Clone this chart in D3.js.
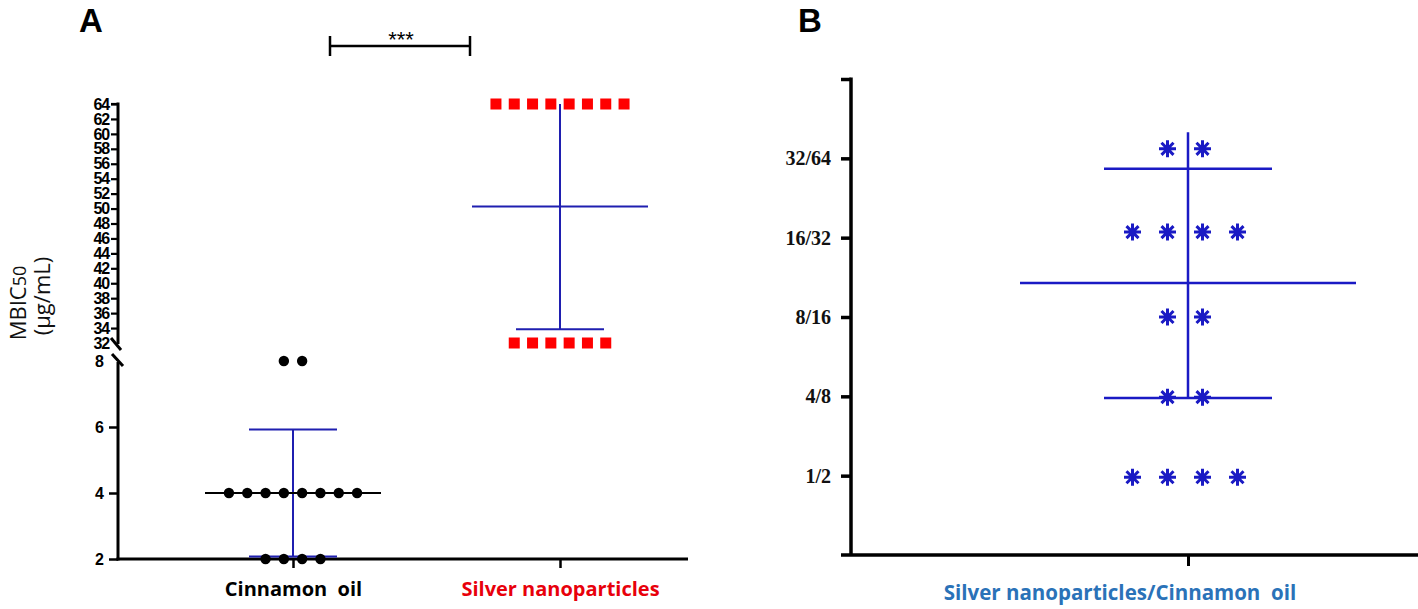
<!DOCTYPE html>
<html><head><meta charset="utf-8">
<script src="https://cdn.jsdelivr.net/npm/d3@7"></script>
<style>body{margin:0;background:#fff}svg{display:block}</style>
</head><body>
<svg id="c" width="1418" height="609"></svg>
<script>
// ---------- Panel A data ----------
const categoriesA = ["Cinnamon oil", "Silver nanoparticles"];
const categoryColorsA = ["#000000", "#e8000b"];
const cinnamonValues = [8, 8, 4, 4, 4, 4, 4, 4, 4, 4, 2, 2, 2, 2];
const silverValues = [64, 64, 64, 64, 64, 64, 64, 64, 32, 32, 32, 32, 32, 32];
const upperTicks = [64, 62, 60, 58, 56, 54, 52, 50, 48, 46, 44, 42, 40, 38, 36, 34, 32];
const lowerTicks = [2, 4, 6, 8];
const significanceLabel = "***";
const yTitleA = ["MBIC", "50", "(µg/mL)"];

// ---------- Panel B data ----------
const combos = ["1/2", "4/8", "8/16", "16/32", "32/64"];
const comboCounts = [4, 2, 2, 4, 2];
const comboPlotted = [-0.02, 0.99, 2.0, 3.07, 4.12];   // plotted level of each group (axis index units)
const comboMean = [2.43];
const comboSdRange = [0.98, 3.87];
const comboWhiskerTop = [4.33];
const categoryB = "Silver nanoparticles/Cinnamon  oil";

const svg = d3.select("#c");
const blueA = "#1f1fb0", blueB = "#1a1ac4";

// ================= PANEL A =================
const axA = 118, xEndA = 688, x0A = 559;
const yUp = d3.scaleLinear().domain([32, 64]).range([343, 104]);
const yLo = d3.scaleLinear().domain([2, 8]).range([559, 361]);
const yA = v => v >= 32 ? yUp(v) : yLo(v);
const xA = d3.scalePoint().domain(categoriesA).range([293, 560]);

svg.append("text").attr("x", 91).attr("y", 32).attr("text-anchor", "middle")
  .attr("font-family", "Liberation Sans, Arial, sans-serif").attr("font-weight", "bold")
  .attr("font-size", 33).text("A");

// upper axis
const gUp = svg.append("g").attr("transform", `translate(${axA},0)`)
  .call(d3.axisLeft(yUp).tickValues(upperTicks).tickSize(7).tickPadding(2).tickFormat(d3.format("d")));
gUp.select(".domain").remove();
gUp.selectAll(".tick line").attr("stroke", "#000").attr("stroke-width", 2.2)
  .filter(d => d === 32).remove();
gUp.selectAll(".tick text").attr("font-family", "Liberation Sans, Arial, sans-serif")
  .attr("font-weight", "bold").style("font-size", "16px").attr("letter-spacing", -1.2).attr("fill", "#000");

// lower axis
const gLo = svg.append("g").attr("transform", `translate(${axA},0)`)
  .call(d3.axisLeft(yLo).tickValues(lowerTicks).tickSize(9).tickPadding(5).tickFormat(d3.format("d")));
gLo.select(".domain").remove();
gLo.selectAll(".tick line").attr("stroke", "#000").attr("stroke-width", 2.5)
  .filter(d => d === 8).remove();
gLo.selectAll(".tick text").attr("font-family", "Liberation Sans, Arial, sans-serif")
  .attr("font-weight", "bold").style("font-size", "16px").attr("fill", "#000");

// axis lines with break
svg.append("line").attr("x1", axA).attr("x2", axA).attr("y1", yUp(64) - 1.5).attr("y2", 344)
  .attr("stroke", "#000").attr("stroke-width", 3);
svg.append("line").attr("x1", axA).attr("x2", axA).attr("y1", 362).attr("y2", x0A + 1.5)
  .attr("stroke", "#000").attr("stroke-width", 3);
[[111, 338, 121, 350], [112, 354, 123, 366]].forEach(s =>
  svg.append("line").attr("x1", s[0]).attr("y1", s[1]).attr("x2", s[2]).attr("y2", s[3])
    .attr("stroke", "#000").attr("stroke-width", 3));
svg.append("line").attr("x1", axA - 7).attr("x2", axA).attr("y1", yUp(64)).attr("y2", yUp(64))
  .attr("stroke", "#000").attr("stroke-width", 2.2);

// x axis
svg.append("line").attr("x1", axA - 1.5).attr("x2", xEndA).attr("y1", x0A).attr("y2", x0A)
  .attr("stroke", "#000").attr("stroke-width", 3);
const gxA = svg.append("g").attr("transform", `translate(0,${x0A})`)
  .call(d3.axisBottom(xA).tickSize(9).tickPadding(14));
gxA.select(".domain").remove();
gxA.selectAll(".tick line").attr("stroke", "#000").attr("stroke-width", 2.5);
gxA.selectAll(".tick text").attr("font-family", "Open Sans, sans-serif").attr("font-weight", "bold")
  .style("font-size", "20px").style("white-space", "pre")
  .attr("fill", (d, i) => categoryColorsA[i]).text(d => d === "Cinnamon oil" ? "Cinnamon  oil" : d);

// y title
const yt = svg.append("g").attr("font-family", "Open Sans, sans-serif").attr("fill", "#111");
const t1 = yt.append("text").attr("transform", "translate(26,303) rotate(-90)").attr("text-anchor", "middle")
  .attr("font-size", 22);
t1.append("tspan").text(yTitleA[0]);
t1.append("tspan").attr("font-size", 18).text(yTitleA[1]);
yt.append("text").attr("transform", "translate(50,296) rotate(-90)").attr("text-anchor", "middle")
  .attr("font-size", 22).text(yTitleA[2]);

// significance bracket
const sb = svg.append("g").attr("stroke", "#000").attr("stroke-width", 2.5);
sb.append("line").attr("x1", 330).attr("x2", 470).attr("y1", 46).attr("y2", 46);
sb.append("line").attr("x1", 330).attr("x2", 330).attr("y1", 36).attr("y2", 56);
sb.append("line").attr("x1", 470).attr("x2", 470).attr("y1", 36).attr("y2", 56);
svg.append("text").attr("x", 401).attr("y", 47).attr("text-anchor", "middle")
  .attr("font-family", "Liberation Sans, Arial, sans-serif").attr("font-size", 22).text(significanceLabel);

// spread helper
function spread(values, step, shift) {
  const groups = d3.groups(values, v => v);
  const out = [];
  groups.forEach(([v, arr]) => {
    const n = arr.length;
    arr.forEach((_, i) => out.push({ v, off: (i - (n - 1) / 2) * step + shift }));
  });
  return out;
}

// error bars & means (mean ± SD from data)
function errorA(values, cat, clipMax) {
  const cx = xA(cat);
  const m = d3.mean(values), sd = d3.deviation(values);
  const hi = m + sd, lo = m - sd;
  const top = Math.min(hi, clipMax);
  const g = svg.append("g");
  g.append("line").attr("x1", cx).attr("x2", cx).attr("y1", yA(lo)).attr("y2", yA(top))
    .attr("stroke", blueA).attr("stroke-width", 2);
  g.append("line").attr("x1", cx - 44).attr("x2", cx + 44).attr("y1", yA(lo)).attr("y2", yA(lo))
    .attr("stroke", blueA).attr("stroke-width", 2);
  if (hi <= clipMax) g.append("line").attr("x1", cx - 44).attr("x2", cx + 44).attr("y1", yA(hi)).attr("y2", yA(hi))
    .attr("stroke", blueA).attr("stroke-width", 2);
  return { m, cx };
}
const eC = errorA(cinnamonValues, categoriesA[0], 8);
const eS = errorA(silverValues, categoriesA[1], 64);
svg.append("line").attr("x1", eC.cx - 88).attr("x2", eC.cx + 88).attr("y1", yA(eC.m)).attr("y2", yA(eC.m))
  .attr("stroke", "#000").attr("stroke-width", 2);
svg.append("line").attr("x1", eS.cx - 88).attr("x2", eS.cx + 88).attr("y1", yA(eS.m)).attr("y2", yA(eS.m))
  .attr("stroke", blueA).attr("stroke-width", 2);

// points
svg.append("g").selectAll("circle").data(spread(cinnamonValues, 18.3, 0)).join("circle")
  .attr("cx", d => xA(categoriesA[0]) + d.off).attr("cy", d => yA(d.v)).attr("r", 5.2).attr("fill", "#000");
svg.append("g").selectAll("rect").data(spread(silverValues, 18.3, 0)).join("rect")
  .attr("x", d => xA(categoriesA[1]) + d.off - 5.5).attr("y", d => yA(d.v) - 5.5)
  .attr("width", 11).attr("height", 11).attr("fill", "#ff0000");

// ================= PANEL B =================
const axB = 851, x0B = 555;
const yB = d3.scaleLinear().domain([-1, 5]).range([x0B, 79]);
const xB = d3.scalePoint().domain([categoryB]).range([1188, 1188]);

svg.append("text").attr("x", 810).attr("y", 32).attr("text-anchor", "middle")
  .attr("font-family", "Liberation Sans, Arial, sans-serif").attr("font-weight", "bold")
  .attr("font-size", 33).text("B");

const gyB = svg.append("g").attr("transform", `translate(${axB},0)`)
  .call(d3.axisLeft(yB).tickValues([0, 1, 2, 3, 4, 5]).tickSize(10).tickPadding(10)
    .tickFormat(d => combos[d] || ""));
gyB.select(".domain").remove();
gyB.selectAll(".tick line").attr("stroke", "#000").attr("stroke-width", 3.5);
gyB.selectAll(".tick text").attr("font-family", "Liberation Serif, Times New Roman, serif")
  .attr("font-weight", "bold").style("font-size", "20px").attr("fill", "#111");
svg.append("line").attr("x1", axB).attr("x2", axB).attr("y1", yB(5) - 1.5).attr("y2", x0B)
  .attr("stroke", "#000").attr("stroke-width", 3.5);
svg.append("line").attr("x1", axB - 10).attr("x2", 1418).attr("y1", x0B).attr("y2", x0B)
  .attr("stroke", "#000").attr("stroke-width", 3.5);
const gxB = svg.append("g").attr("transform", `translate(0,${x0B})`)
  .call(d3.axisBottom(xB).tickSize(11).tickFormat(""));
gxB.select(".domain").remove();
gxB.selectAll(".tick line").attr("stroke", "#000").attr("stroke-width", 3);
svg.append("text").attr("x", 1120).attr("y", 600).attr("text-anchor", "middle")
  .attr("font-family", "Open Sans, sans-serif").attr("font-weight", "bold").attr("font-size", 20.5)
  .style("white-space", "pre").attr("fill", "#2a72b8").text(categoryB);

// error bar B
const cxB = xB(categoryB);
const eb = svg.append("g").attr("stroke", blueB).attr("stroke-width", 2.5);
eb.append("line").attr("x1", cxB).attr("x2", cxB).attr("y1", yB(comboSdRange[0])).attr("y2", yB(comboWhiskerTop[0]));
eb.append("line").attr("x1", cxB - 168).attr("x2", cxB + 168).attr("y1", yB(comboMean[0])).attr("y2", yB(comboMean[0]));
comboSdRange.forEach(v => eb.append("line").attr("x1", cxB - 84).attr("x2", cxB + 84).attr("y1", yB(v)).attr("y2", yB(v)));

// stars
const asterisk8 = {
  draw(ctx, size) {
    const r = Math.sqrt(size) / 2;
    for (let k = 0; k < 4; k++) {
      const a = k * Math.PI / 4;
      ctx.moveTo(r * Math.cos(a), r * Math.sin(a));
      ctx.lineTo(-r * Math.cos(a), -r * Math.sin(a));
    }
  }
};
const starData = [];
combos.forEach((c, gi) => {
  const n = comboCounts[gi];
  for (let i = 0; i < n; i++) starData.push({ lvl: comboPlotted[gi], off: (i - (n - 1) / 2) * 35 - 3 });
});
svg.append("g").selectAll("path").data(starData).join("path")
  .attr("transform", d => `translate(${cxB + d.off},${yB(d.lvl)})`)
  .attr("d", d3.symbol().type(asterisk8).size(289))
  .attr("fill", "none").attr("stroke", blueB).attr("stroke-width", 3);
</script>
</body></html>
